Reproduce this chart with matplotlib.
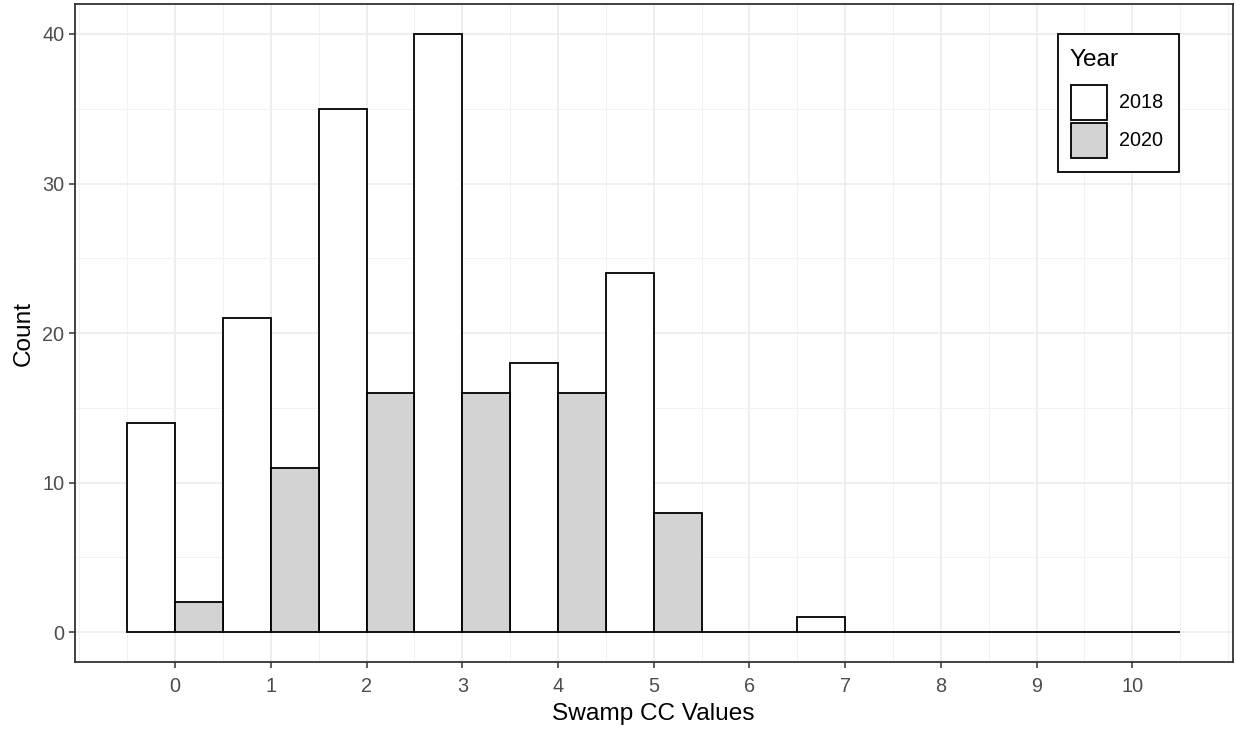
import matplotlib
matplotlib.use("Agg")
import matplotlib.pyplot as plt
from matplotlib.patches import Rectangle
import numpy as np

plt.rcParams['font.family'] = ['Liberation Sans', 'DejaVu Sans']

cc_values = [0, 1, 2, 3, 4, 5, 6, 7, 8, 9, 10]
count_2018 = [14, 21, 35, 40, 18, 24, 0, 1, 0, 0, 0]
count_2020 = [2, 11, 16, 16, 16, 8, 0, 0, 0, 0, 0]
years = ["2018", "2020"]
fills = ["white", "#d3d3d3"]

W, H = 1235, 730
fig = plt.figure(figsize=(W / 100, H / 100), dpi=100)
ax = fig.add_axes([74.7 / W, 1 - 662.2 / H, (1232.7 - 74.7) / W, (662.2 - 4.0) / H])

x = np.array(cc_values, dtype=float)
ax.bar(x - 0.25, count_2018, width=0.5, color=fills[0], edgecolor="black", linewidth=1.3, zorder=3)
ax.bar(x + 0.25, count_2020, width=0.5, color=fills[1], edgecolor="black", linewidth=1.3, zorder=3)

ax.set_xlim(-1.05, 11.05)
ax.set_ylim(-2, 42)
ax.set_xticks(cc_values)
ax.set_xticklabels([str(v) for v in cc_values])
ax.set_yticks([0, 10, 20, 30, 40])
ax.set_xticks(np.arange(-1, 11.01, 0.5), minor=True)
ax.set_yticks([5, 15, 25, 35], minor=True)

ax.grid(which='major', color='#ebebeb', linewidth=1.2, zorder=0)
ax.grid(which='minor', color='#f2f2f2', linewidth=0.7, zorder=0)
ax.set_axisbelow(True)

ax.tick_params(which='major', length=4, width=1.1, color='#333333', labelsize=14.3, labelcolor='#4d4d4d')
ax.tick_params(axis='x', which='major', pad=7)
ax.tick_params(axis='y', which='major', pad=3.5)
ax.tick_params(which='minor', length=0)
for s in ax.spines.values():
    s.set_color('#333333')
    s.set_linewidth(1.3)

ax.set_xlabel("Swamp CC Values", fontsize=17.6, color='black', labelpad=5)
ax.set_ylabel("Count", fontsize=17.6, color='black', labelpad=5)

# legend (figure pixel coordinates, y measured from top)
def fx(px):
    return px / W

def fy(py):
    return 1 - py / H

frame = Rectangle((fx(1058), fy(171.7)), fx(1179.3) - fx(1058), fy(34) - fy(171.7),
                  transform=fig.transFigure, facecolor='white', edgecolor='black', linewidth=1.3, zorder=10)
fig.patches.append(frame)
fig.text(fx(1069), fy(60.5), "Year", fontsize=17.6, ha='left', va='center', zorder=11)
key_tops = [85, 123]
for yr, fc, top in zip(years, fills, key_tops):
    r = Rectangle((fx(1071), fy(top + 35.3)), fx(1106.7) - fx(1071), fy(top) - fy(top + 35.3),
                  transform=fig.transFigure, facecolor=fc, edgecolor='black', linewidth=1.3, zorder=11)
    fig.patches.append(r)
    fig.text(fx(1119), fy(top + 17.6), yr, fontsize=14.3, ha='left', va='center', zorder=12)

fig.savefig("out.png", dpi=100)
